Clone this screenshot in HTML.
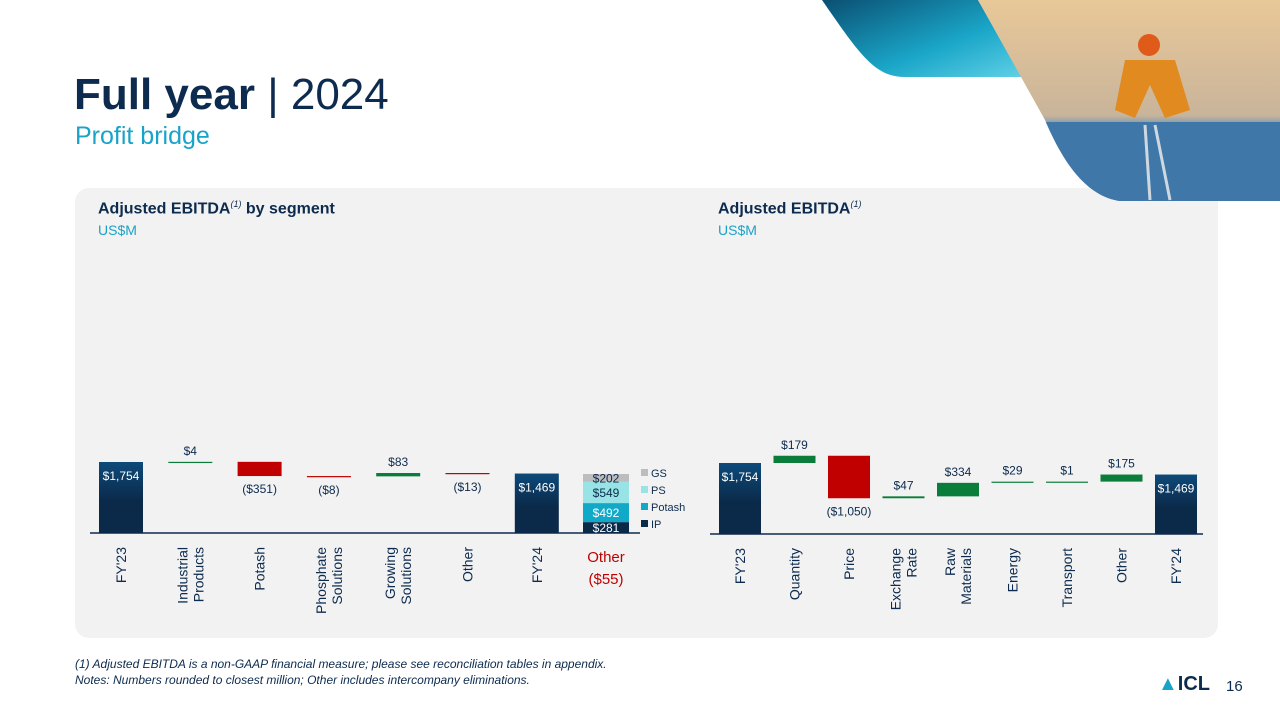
<!DOCTYPE html>
<html><head><meta charset="utf-8"><style>
body{margin:0;width:1280px;height:720px;overflow:hidden;background:#fff;font-family:"Liberation Sans",sans-serif;position:relative}
.t{position:absolute;white-space:nowrap}
</style></head><body>
<div style="position:absolute;left:75px;top:188px;width:1143px;height:450px;background:#f2f2f2;border-radius:14px"></div>
<svg style="position:absolute;left:0;top:0" width="1280" height="210">
<defs>
<linearGradient id="tg" x1="0" y1="0" x2="1" y2="1"><stop offset="0" stop-color="#0a4f72"/><stop offset="0.6" stop-color="#1aa6c8"/><stop offset="1" stop-color="#5fd0e6"/></linearGradient>
<linearGradient id="sky" x1="0" y1="0" x2="0" y2="1"><stop offset="0" stop-color="#e8c898"/><stop offset="0.55" stop-color="#c9b49a"/><stop offset="0.6" stop-color="#6a95b8"/><stop offset="1" stop-color="#1f4f80"/></linearGradient>
<clipPath id="pc"><path d="M978,0 L1280,0 L1280,201 L1120,201 C1085,196 1062,160 1045,120 L978,0 Z"/></clipPath>
</defs>
<path d="M822,0 L978,0 L1022,77 L905,77 C875,77 860,55 822,0 Z" fill="url(#tg)"/>
<g clip-path="url(#pc)">
<rect x="960" y="0" width="320" height="210" fill="url(#sky)"/>
<rect x="960" y="122" width="320" height="90" fill="#3f78a8"/>
<path d="M1145,125 L1150,200 M1155,125 L1170,200" stroke="#cfd8e0" stroke-width="3"/>
<circle cx="1149" cy="45" r="11" fill="#e05a1a"/>
<path d="M1125,60 L1175,60 L1190,110 L1165,118 L1150,85 L1135,118 L1115,110 Z" fill="#e08a20"/>
</g>
</svg>
<div class="t" style="left:74px;top:70px;font-size:44px;color:#0d2b4e"><b>Full year</b> | 2024</div>
<div class="t" style="left:75px;top:122px;font-size:25px;color:#1aa3c8">Profit bridge</div>
<div class="t" style="left:98px;top:199px;font-size:16px;font-weight:bold;color:#0d2b4e">Adjusted EBITDA<sup style="font-size:9px;font-weight:normal;font-style:italic">(1)</sup> by segment</div>
<div class="t" style="left:98px;top:222px;font-size:14px;color:#1aa3c8">US$M</div>
<div class="t" style="left:718px;top:199px;font-size:16px;font-weight:bold;color:#0d2b4e">Adjusted EBITDA<sup style="font-size:9px;font-weight:normal;font-style:italic">(1)</sup></div>
<div class="t" style="left:718px;top:222px;font-size:14px;color:#1aa3c8">US$M</div>
<svg id="ch" style="position:absolute;left:0;top:0" width="1280" height="720">
<defs><linearGradient id="nv" x1="0" y1="0" x2="0" y2="1"><stop offset="0" stop-color="#0d4a7a"/><stop offset="0.55" stop-color="#0b2a4a"/><stop offset="1" stop-color="#0b2a4a"/></linearGradient></defs>
</svg>
<div class="t" style="left:75px;top:656px;font-size:12px;font-style:italic;color:#0d2b4e;line-height:16px">(1) Adjusted EBITDA is a non-GAAP financial measure; please see reconciliation tables in appendix.<br>Notes: Numbers rounded to closest million; Other includes intercompany eliminations.</div>
<div class="t" style="left:1158px;top:673px;font-size:20px;font-weight:bold;color:#0d2b4e"><span style="color:#1aa3c8">▲</span>ICL</div>
<div class="t" style="left:1226px;top:678px;font-size:15px;color:#0d2b4e">16</div>
<script>
const leftCats=[["FY'23"],["Industrial","Products"],["Potash"],["Phosphate","Solutions"],["Growing","Solutions"],["Other"],["FY'24"]];
const leftVals=[1754,4,-351,-8,83,-13,1469];
const leftLabels=["$1,754","$4","($351)","($8)","$83","($13)","$1,469"];
const stackNames=["IP","Potash","PS","GS"];
const stackVals=[281,492,549,202];
const stackColors=["#0b2a4a","#12a9c9","#97e3e6","#bdbdbd"];
const rightCats=[["FY'23"],["Quantity"],["Price"],["Exchange","Rate"],["Raw","Materials"],["Energy"],["Transport"],["Other"],["FY'24"]];
const rightVals=[1754,179,-1050,47,334,29,1,175,1469];
const rightLabels=["$1,754","$179","($1,050)","$47","$334","$29","$1","$175","$1,469"];
const svg=document.getElementById('ch');const NS='http://www.w3.org/2000/svg';
const K=71/1754;
function mk(t,a,txt){const e=document.createElementNS(NS,t);for(const k in a)e.setAttribute(k,a[k]);if(txt!==undefined)e.textContent=txt;svg.appendChild(e);return e;}
function yv(base,v){return base-v*K;}
function waterfall(cats,vals,labs,x0,step,w,base,ax0,ax1,pre){
  const ax=mk('line',{x1:ax0,x2:ax1,y1:base,y2:base,stroke:'#0d2b4e','stroke-width':1.5});
  
  let cum=0;
  vals.forEach((v,i)=>{
    const cx=x0+i*step;let y1,y2,fill,total=(i==0||i==vals.length-1);
    if(total){y1=yv(base,v);y2=base;fill='url(#nv)';cum=v;}
    else{const a=cum,b=cum+v;y1=yv(base,Math.max(a,b));y2=yv(base,Math.min(a,b));fill=v>=0?'#0a7d3a':'#c00000';cum=b;}
    const h=Math.max(y2-y1,1.2);
    const r=mk('rect',{x:cx-w/2,y:y1,width:w,height:h,fill:fill});
    
    let ty,col='#0d2b4e';
    if(total){ty=y1+18;col='#fff';}else if(v>=0){ty=y1-7;}else{ty=y1+h+17;}
    const t=mk('text',{x:cx,y:ty,'text-anchor':'middle','font-size':12,fill:col,'font-family':'Liberation Sans'},labs[i]);
    
    const lines=cats[i];
    lines.forEach((ln,j)=>{
      const lx=cx-(lines.length-1)*8+j*16+5;
      const c=mk('text',{x:lx,y:base+14,'text-anchor':'end','font-size':14,fill:'#0d2b4e','font-family':'Liberation Sans',transform:'rotate(-90 '+lx+' '+(base+14)+')'},ln);
      
    });
  });
}
waterfall(leftCats,leftVals,leftLabels,121,69.3,44,533,90,640,'segment');
waterfall(rightCats,rightVals,rightLabels,740,54.5,42,534,710,1203,'driver');
let acc=0;const sx=606,sw=46,base=533;
const tot=stackVals.reduce((a,b)=>a+b,0),sc=59/tot;
stackVals.forEach((v,i)=>{
  const y=base-(acc+v)*sc,h=v*sc;
  const r=mk('rect',{x:sx-sw/2,y:y,width:sw,height:h,fill:stackColors[i]});
  
  const t=mk('text',{x:sx,y:y+h/2+4.5,'text-anchor':'middle','font-size':12,fill:i<2?'#fff':'#0d2b4e','font-family':'Liberation Sans'},'$'+v);
  
  const ly=base-5-i*17;
  const s=mk('rect',{x:641,y:ly-8,width:7,height:7,fill:stackColors[i]});
  
  const lt=mk('text',{x:651,y:ly,'font-size':11,fill:'#0d2b4e','font-family':'Liberation Sans'},stackNames[i]);
  
  acc+=v;
});
['Other','($55)'].forEach((s,j)=>{
  const t=mk('text',{x:606,y:562+j*22,'text-anchor':'middle','font-size':15,fill:'#c00000','font-family':'Liberation Sans'},s);
  
});
</script>
</body></html>
